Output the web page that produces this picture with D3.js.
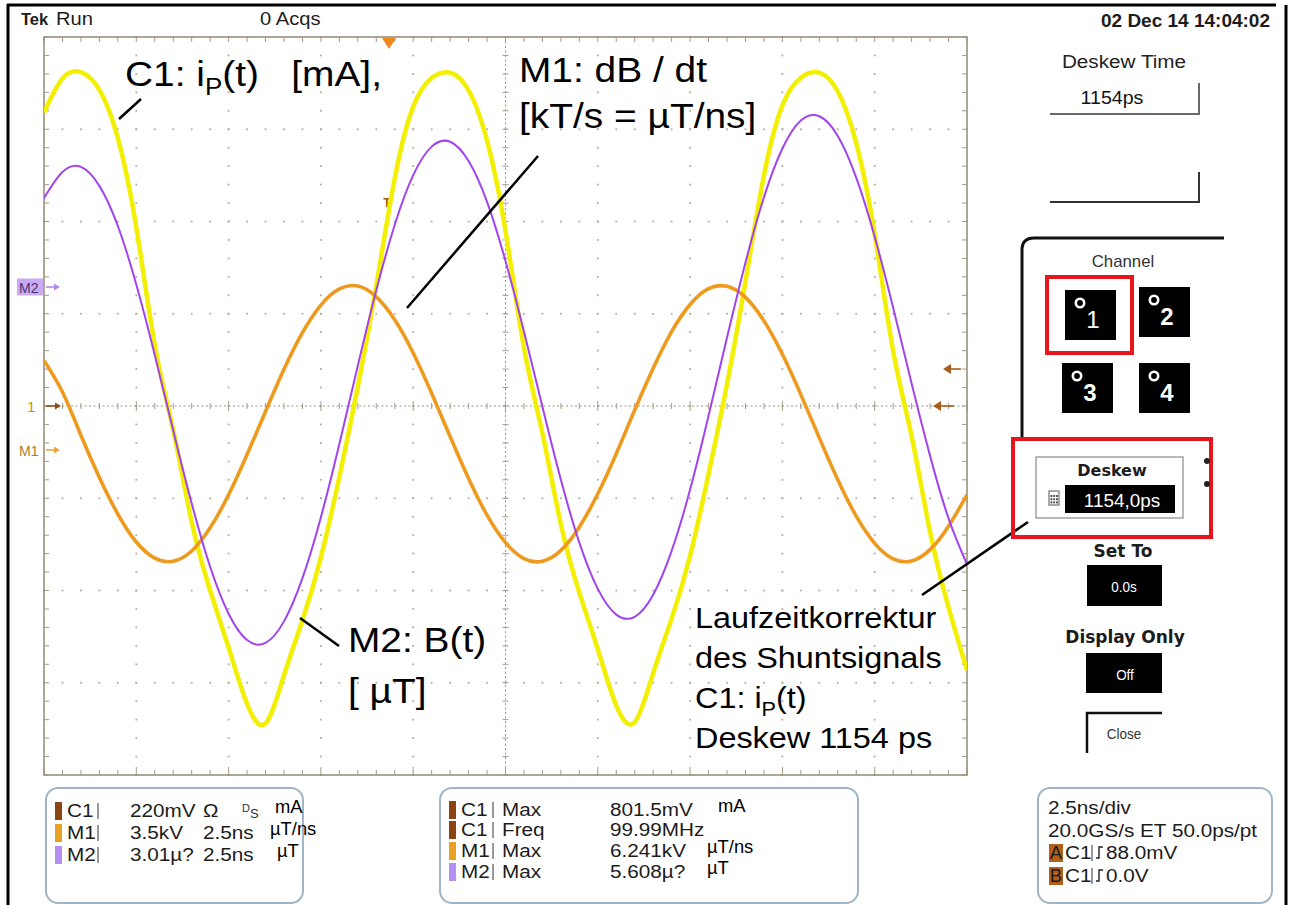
<!DOCTYPE html>
<html>
<head>
<meta charset="utf-8">
<script src="https://cdn.jsdelivr.net/npm/d3@7"></script>
<style>
  body { margin: 0; background: #fff; }
  svg { display: block; font-family: "Liberation Sans", Arial, sans-serif; }
</style>
</head>
<body>
<div id="chart-area"></div>
<script>
// ---------------- DATA ----------------
// time axis, ns (2.5 ns/div, 10 div)
const timeNs = [0, 0.5, 1, 1.5, 2, 2.5, 3, 3.5, 4, 4.5, 5, 5.5, 6, 6.5, 7, 7.5, 8, 8.5, 9, 9.5,
  10, 10.5, 11, 11.5, 12, 12.5, 13, 13.5, 14, 14.5, 15, 15.5, 16, 16.5, 17, 17.5, 18, 18.5, 19, 19.5,
  20, 20.5, 21, 21.5, 22, 22.5, 23, 23.5, 24, 24.5, 25];

// C1 shunt signal i_P(t), mV
const c1mV = [700, 781, 796, 754, 639, 426, 146, -57, -276, -440, -576, -710, -757, -642, -511, -361, -169,
  46, 287, 543, 714, 782, 795, 753, 633, 418, 139, -65, -282, -445, -580, -714, -754, -637, -507, -357, -162,
  52, 297, 550, 717, 783, 795, 750, 627, 410, 131, -72, -300, -480, -630];

// M1 dB/dt, kV (= uT/ns)
const m1kV = [3.40, 2.20, 0.56, -1.04, -2.43, -3.49, -4.10, -4.22, -3.83, -2.95, -1.70, -0.17, 1.46, 3.06,
  4.45, 5.50, 6.11, 6.22, 5.81, 4.94, 3.68, 2.15, 0.51, -1.08, -2.47, -3.51, -4.12, -4.22, -3.81, -2.92,
  -1.66, -0.14, 1.52, 3.10, 4.49, 5.52, 6.12, 6.21, 5.79, 4.90, 3.63, 2.10, 0.46, -1.13, -2.51, -3.54,
  -4.13, -4.21, -3.78, -2.89, -1.70];

// M2 B(t), u
const m2uT = [2.90, 3.75, 3.92, 3.30, 1.99, 0.08, -2.22, -4.68, -7.06, -9.13, -10.66, -11.52, -11.61,
  -10.91, -9.50, -7.51, -5.12, -2.57, -0.11, 2.03, 3.65, 4.58, 4.74, 4.11, 2.78, 0.85, -1.45, -3.91,
  -6.29, -8.34, -9.85, -10.69, -10.76, -10.04, -8.61, -6.61, -4.20, -1.65, 0.80, 2.93, 4.52, 5.43,
  5.57, 4.93, 3.57, 1.64, -0.68, -3.15, -5.51, -7.55, -9.05];

// channel setup: volts per div and ground marker (div from centre)
const channels = ["C1", "M1", "M2"];
const voltsPerDiv = [220, 3.5, 3.01];
const groundDiv = [0, -0.477, 1.29];

// readouts
const setupSrc = ["C1", "M1", "M2"];
const setupScale = ["220mV", "3.5kV", "3.01\u00b5?"];
const setupCol2 = ["\u03a9", "2.5ns", "2.5ns"];
const setupUnit = ["mA", "\u00b5T/ns", "\u00b5T"];

const measSrc = ["C1", "C1", "M1", "M2"];
const measType = ["Max", "Freq", "Max", "Max"];
const measValue = ["801.5mV", "99.99MHz", "6.241kV", "5.608\u00b5?"];
const measUnit = ["mA", "", "\u00b5T/ns", "\u00b5T"];

const timebase = ["2.5ns/div", "20.0GS/s ET 50.0ps/pt"];
const trigName = ["A", "B"];
const trigSrc = ["C1", "C1"];
const trigLevel = ["88.0mV", "0.0V"];

// ---------------- LAYOUT ----------------
const W = 1295, H = 905;
const plot = { left: 44, right: 967, top: 37, bottom: 775 };
const colC1 = "#f2ef00", colM1 = "#ee9a1e", colM2 = "#a244ee";
const swatch = { C1: "#8a4512", M1: "#e9a124", M2: "#b58ef2" };

const svg = d3.select("#chart-area").append("svg")
  .attr("width", W)
  .attr("height", H);

function label(sel, x, y, s, o = {}) {
  const t = sel.append("text")
    .attr("transform", `translate(${x},${y}) scale(${o.sx ?? 1.12},1)`)
    .attr("font-size", o.size || 18.5)
    .attr("fill", o.fill || "#1c1c1c")
    .attr("text-anchor", o.anchor || "start")
    .attr("font-weight", o.weight || "normal")
    .style("white-space", "pre");
  if (o.family) t.attr("font-family", o.family);
  t.text(s);
  return t;
}

// outer frame
svg.append("line").attr("x1", 7).attr("y1", 5).attr("x2", 1276).attr("y2", 5)
  .attr("stroke", "#000").attr("stroke-width", 3);
svg.append("line").attr("x1", 8).attr("y1", 4).attr("x2", 8).attr("y2", H)
  .attr("stroke", "#000").attr("stroke-width", 3);
svg.append("line").attr("x1", 1286).attr("y1", 5).attr("x2", 1286).attr("y2", H)
  .attr("stroke", "#000").attr("stroke-width", 3);

// top status line
label(svg, 21, 25, "Tek", { size: 16.5, weight: "bold", sx: 1.0 });
label(svg, 56, 25, "Run", { size: 18 });
label(svg, 260, 25, "0 Acqs", { size: 18 });
label(svg, 1270, 27, "02 Dec 14 14:04:02", { size: 19, weight: "bold", anchor: "end", sx: 1.0 });

// ---------------- SCALES ----------------
const x = d3.scaleLinear().domain([0, 25]).range([plot.left, plot.right]);
const yDiv = d3.scaleLinear().domain([-4, 4]).range([plot.bottom, plot.top]);
const yCh = channels.map((c, i) => d3.scaleLinear()
  .domain([(-4 - groundDiv[i]) * voltsPerDiv[i], (4 - groundDiv[i]) * voltsPerDiv[i]])
  .range([plot.bottom, plot.top]));

// ---------------- GRATICULE ----------------
const grid = svg.append("g").attr("class", "graticule");
const gridCol = "#a49b88";

const innerMajX = d3.range(2.5, 24.99, 2.5).filter(t => Math.abs(t - 12.5) > 0.01);
const innerMajY = [-3, -2, -1, 1, 2, 3];
const minorX = d3.range(0, 25.001, 0.5);
const minorY = d3.range(-4, 4.001, 0.2);

const dots = innerMajX.flatMap(t => minorY.map(d => [x(t), yDiv(d)]))
  .concat(innerMajY.flatMap(d => minorX.map(t => [x(t), yDiv(d)])));

grid.selectAll("rect.dot").data(dots).join("rect")
  .attr("class", "dot")
  .attr("x", d => d[0] - 0.9).attr("y", d => d[1] - 0.9)
  .attr("width", 1.8).attr("height", 1.8)
  .attr("fill", "#b3ad9c");

// centre cross
grid.append("line")
  .attr("x1", plot.left).attr("x2", plot.right).attr("y1", yDiv(0)).attr("y2", yDiv(0))
  .attr("stroke", "#9d947f").attr("stroke-dasharray", "2,2.5");
grid.append("line")
  .attr("x1", x(12.5)).attr("x2", x(12.5)).attr("y1", plot.top).attr("y2", plot.bottom)
  .attr("stroke", "#9d947f").attr("stroke-dasharray", "2,2.5");
grid.selectAll("line.cx").data(minorX).join("line")
  .attr("class", "cx")
  .attr("x1", d => x(d)).attr("x2", d => x(d))
  .attr("y1", d => yDiv(0) - (d % 2.5 === 0 ? 5 : 3)).attr("y2", d => yDiv(0) + (d % 2.5 === 0 ? 5 : 3))
  .attr("stroke", gridCol);
grid.selectAll("line.cy").data(minorY).join("line")
  .attr("class", "cy")
  .attr("y1", d => yDiv(d)).attr("y2", d => yDiv(d))
  .attr("x1", x(12.5) - 3).attr("x2", x(12.5) + 3)
  .attr("stroke", gridCol);

// edge ticks
grid.selectAll("line.tt").data(minorX).join("line")
  .attr("class", "tt")
  .attr("x1", d => x(d)).attr("x2", d => x(d))
  .attr("y1", plot.top).attr("y2", plot.top + 5)
  .attr("stroke", gridCol);
grid.selectAll("line.tb").data(minorX).join("line")
  .attr("class", "tb")
  .attr("x1", d => x(d)).attr("x2", d => x(d))
  .attr("y1", plot.bottom).attr("y2", d => plot.bottom - (d % 2.5 === 0 ? 8 : 5))
  .attr("stroke", gridCol);
grid.selectAll("line.tl").data(minorY).join("line")
  .attr("class", "tl")
  .attr("y1", d => yDiv(d)).attr("y2", d => yDiv(d))
  .attr("x1", plot.left).attr("x2", plot.left + 5)
  .attr("stroke", gridCol);
grid.selectAll("line.tr").data(minorY).join("line")
  .attr("class", "tr")
  .attr("y1", d => yDiv(d)).attr("y2", d => yDiv(d))
  .attr("x1", plot.right).attr("x2", plot.right - 5)
  .attr("stroke", gridCol);

grid.append("rect")
  .attr("x", plot.left).attr("y", plot.top)
  .attr("width", plot.right - plot.left).attr("height", plot.bottom - plot.top)
  .attr("fill", "none").attr("stroke", "#9a917e").attr("stroke-width", 1.6);

// ---------------- MARKERS ----------------
function arrow(x1, x2, y, color, head = 6, hw = 3.5) {
  const dir = x2 > x1 ? 1 : -1;
  svg.append("line").attr("x1", x1).attr("x2", x2 - dir * head).attr("y1", y).attr("y2", y)
    .attr("stroke", color).attr("stroke-width", 1.6);
  svg.append("path")
    .attr("d", `M${x2},${y} L${x2 - dir * head},${y - hw} L${x2 - dir * head},${y + hw} Z`)
    .attr("fill", color);
}

// M2 ground marker
svg.append("rect").attr("x", 17).attr("y", yDiv(groundDiv[2]) - 8.5).attr("width", 26).attr("height", 17)
  .attr("fill", "#c8abf4");
label(svg, 19, yDiv(groundDiv[2]) + 6, "M2", { size: 14, fill: "#4b3470", sx: 1.0 });
arrow(46, 60, yDiv(groundDiv[2]), "#b08be8");
// C1 ground marker
label(svg, 27, yDiv(groundDiv[0]) + 6, "1", { size: 15, fill: "#a7a300", sx: 1.0 });
arrow(46, 61, yDiv(groundDiv[0]), "#8c4d14");
// M1 ground marker
label(svg, 19, yDiv(groundDiv[1]) + 6, "M1", { size: 14, fill: "#b07a1e", sx: 1.0 });
arrow(46, 60, yDiv(groundDiv[1]), "#e5a444");

// trigger level arrows on the right
arrow(961, 943, 369, "#a85a1a", 8, 5);
arrow(954, 933, yDiv(0), "#a85a1a", 8, 5);

// trigger position
svg.append("path").attr("d", "M382,38 L396,38 L389,49 Z").attr("fill", "#f0881c");
label(svg, 387, 207, "T", { size: 12, weight: "bold", fill: "#9a5a14", anchor: "middle", sx: 1.0 });

// ---------------- TRACES ----------------
svg.append("clipPath").attr("id", "clip")
  .append("rect")
  .attr("x", plot.left).attr("y", plot.top)
  .attr("width", plot.right - plot.left).attr("height", plot.bottom - plot.top);

const traces = svg.append("g").attr("clip-path", "url(#clip)");

function trace(values, ch, color, width) {
  const line = d3.line()
    .x((d, i) => x(timeNs[i]))
    .y(d => yCh[ch](d))
    .curve(d3.curveNatural);
  traces.append("path")
    .datum(values)
    .attr("fill", "none")
    .attr("stroke", color)
    .attr("stroke-width", width)
    .attr("stroke-linejoin", "round")
    .attr("d", line);
}

trace(c1mV, 0, colC1, 4.5);
trace(m1kV, 1, colM1, 3.6);
trace(m2uT, 2, colM2, 2);

// ---------------- ANNOTATIONS ----------------
function leader(x1, y1, x2, y2) {
  svg.append("line").attr("x1", x1).attr("y1", y1).attr("x2", x2).attr("y2", y2)
    .attr("stroke", "#000").attr("stroke-width", 2.5);
}

const a1 = label(svg, 125, 86, "C1: i", { size: 36, sx: 1.08, fill: "#000" });
a1.append("tspan").attr("font-size", 24).attr("dy", 9).text("P");
a1.append("tspan").attr("dy", -9).text("(t)   [mA],");
leader(119, 119, 141, 99);

label(svg, 519, 82, "M1: dB / dt", { size: 36, sx: 1.08, fill: "#000" });
label(svg, 519, 128, "[kT/s = \u00b5T/ns]", { size: 36, sx: 1.08, fill: "#000" });
leader(407, 308, 538, 156);

label(svg, 348, 652, "M2: B(t)", { size: 36, sx: 1.08, fill: "#000" });
label(svg, 348, 703, "[ \u00b5T]", { size: 36, sx: 1.08, fill: "#000" });
leader(300, 618, 339, 646);

label(svg, 695, 628, "Laufzeitkorrektur", { size: 30, sx: 1.08, fill: "#000" });
label(svg, 695, 668, "des Shuntsignals", { size: 30, sx: 1.08, fill: "#000" });
const a4 = label(svg, 695, 708, "C1: i", { size: 30, sx: 1.08, fill: "#000" });
a4.append("tspan").attr("font-size", 20).attr("dy", 8).text("P");
a4.append("tspan").attr("dy", -8).text("(t)");
label(svg, 695, 748, "Deskew 1154 ps", { size: 30, sx: 1.08, fill: "#000" });
leader(922, 595, 1028, 522);

// ---------------- SIDE MENU ----------------
label(svg, 1124, 68, "Deskew Time", { size: 18.5, anchor: "middle", fill: "#222" });
label(svg, 1112, 104, "1154ps", { size: 17.5, anchor: "middle", fill: "#111" });
svg.append("path").attr("d", "M1050,114 H1199 V83").attr("fill", "none")
  .attr("stroke", "#6a6a6a").attr("stroke-width", 2);
svg.append("path").attr("d", "M1050,202 H1199 V172").attr("fill", "none")
  .attr("stroke", "#333").attr("stroke-width", 2);

svg.append("path").attr("d", "M1022,437 V250 Q1022,238 1034,238 H1224").attr("fill", "none")
  .attr("stroke", "#111").attr("stroke-width", 3);
label(svg, 1123, 267, "Channel", { size: 16, anchor: "middle", fill: "#333", sx: 1.05 });

const chButtons = [[1065, 290, "1", "normal"], [1139, 287, "2", "bold"], [1062, 363, "3", "bold"], [1139, 363, "4", "bold"]];
chButtons.forEach(([bx, by, n, w]) => {
  svg.append("rect").attr("x", bx).attr("y", by).attr("width", 51).attr("height", 50).attr("fill", "#000");
  svg.append("circle").attr("cx", bx + 15).attr("cy", by + 13).attr("r", 4.2)
    .attr("fill", "none").attr("stroke", "#fff").attr("stroke-width", 2.6);
  label(svg, bx + 28, by + 38, n, { size: 24, weight: w, fill: "#fff", anchor: "middle", sx: 1.0 });
});
svg.append("rect").attr("x", 1047).attr("y", 277).attr("width", 85).attr("height", 76)
  .attr("fill", "none").attr("stroke", "#e8161c").attr("stroke-width", 4);

svg.append("rect").attr("x", 1013).attr("y", 439).attr("width", 198).attr("height", 98)
  .attr("fill", "none").attr("stroke", "#e8161c").attr("stroke-width", 4);
svg.append("rect").attr("x", 1036).attr("y", 457).attr("width", 147).attr("height", 61)
  .attr("fill", "none").attr("stroke", "#8a8a8a").attr("stroke-width", 1.2);
label(svg, 1112, 476, "Deskew", { size: 16, weight: "bold", anchor: "middle", family: "DejaVu Sans", sx: 1.0 });
svg.append("rect").attr("x", 1065).attr("y", 485).attr("width", 110).attr("height", 28).attr("fill", "#000");
label(svg, 1122, 507, "1154,0ps", { size: 18, fill: "#fff", anchor: "middle", sx: 1.05 });
// calculator icon
svg.append("rect").attr("x", 1049).attr("y", 491).attr("width", 10).attr("height", 14)
  .attr("fill", "#fff").attr("stroke", "#555").attr("stroke-width", 1);
svg.append("g").selectAll("rect").data(d3.range(9)).join("rect")
  .attr("x", i => 1050.5 + (i % 3) * 2.8).attr("y", i => 495 + Math.floor(i / 3) * 3.2)
  .attr("width", 1.8).attr("height", 2).attr("fill", "#444");
svg.append("circle").attr("cx", 1207).attr("cy", 461).attr("r", 3).attr("fill", "#222");
svg.append("circle").attr("cx", 1207).attr("cy", 484).attr("r", 3).attr("fill", "#222");

label(svg, 1123, 557, "Set To", { size: 17, weight: "bold", anchor: "middle", family: "DejaVu Sans", sx: 1.0 });
svg.append("rect").attr("x", 1087).attr("y", 565).attr("width", 75).attr("height", 41).attr("fill", "#000");
label(svg, 1124, 592, "0.0s", { size: 15, fill: "#fff", anchor: "middle", sx: 0.9 });

label(svg, 1125, 643, "Display Only", { size: 17, weight: "bold", anchor: "middle", family: "DejaVu Sans", sx: 1.0 });
svg.append("rect").attr("x", 1086).attr("y", 653).attr("width", 76).attr("height", 40).attr("fill", "#000");
label(svg, 1125, 680, "Off", { size: 15, fill: "#fff", anchor: "middle", sx: 0.9 });

svg.append("path").attr("d", "M1162,713 H1087 V753").attr("fill", "none")
  .attr("stroke", "#111").attr("stroke-width", 2.5);
label(svg, 1124, 739, "Close", { size: 15, fill: "#333", anchor: "middle", sx: 0.9 });

// ---------------- READOUT BOXES ----------------
const boxes = [[46, 257], [440, 418], [1038, 234]];
boxes.forEach(([bx, bw]) => {
  svg.append("rect").attr("x", bx).attr("y", 788).attr("width", bw).attr("height", 115)
    .attr("rx", 12).attr("fill", "#fff").attr("stroke", "#9fb5c7").attr("stroke-width", 2);
});

function sep(xp, yb) {
  svg.append("line").attr("x1", xp).attr("x2", xp).attr("y1", yb - 14).attr("y2", yb + 2)
    .attr("stroke", "#333").attr("stroke-width", 1);
}

// vertical setup box
const by1 = [817, 839, 861];
const unitX1 = [275, 270, 277];
setupSrc.forEach((s, i) => {
  svg.append("rect").attr("x", 55).attr("y", by1[i] - 15).attr("width", 7).attr("height", 18).attr("fill", swatch[s]);
  label(svg, 67, by1[i], s);
  sep(98, by1[i]);
  label(svg, 130, by1[i], setupScale[i]);
  label(svg, 203, by1[i], setupCol2[i]);
  label(svg, unitX1[i], by1[i] - 4, setupUnit[i], { size: 17.5, fill: "#000", sx: 1.05 });
});
label(svg, 242, by1[0] - 5, "D", { size: 11, fill: "#333", sx: 1.0 });
label(svg, 250, by1[0] + 1, "S", { size: 13, fill: "#333", sx: 1.0 });

// measurement box
const by2 = [816, 836, 857, 878];
const unitX2 = [718, 0, 707, 707];
measSrc.forEach((s, i) => {
  svg.append("rect").attr("x", 449).attr("y", by2[i] - 15).attr("width", 7).attr("height", 18).attr("fill", swatch[s]);
  label(svg, 461, by2[i], s);
  sep(493, by2[i]);
  label(svg, 502, by2[i], measType[i]);
  label(svg, 610, by2[i], measValue[i]);
  if (measUnit[i]) label(svg, unitX2[i], by2[i] - 4, measUnit[i], { size: 17.5, fill: "#000", sx: 1.05 });
});

// timebase / trigger box
label(svg, 1048, 814, timebase[0]);
label(svg, 1048, 837, timebase[1]);
const by3 = [859, 882];
trigName.forEach((n, i) => {
  svg.append("rect").attr("x", 1049).attr("y", by3[i] - 15).attr("width", 14).attr("height", 18).attr("fill", "#b25f1c");
  label(svg, 1056, by3[i], n, { anchor: "middle", fill: "#1a1a1a", sx: 1.0 });
  label(svg, 1065, by3[i], trigSrc[i]);
  sep(1092, by3[i]);
  svg.append("path").attr("d", `M1096,${by3[i] - 1} H1099 V${by3[i] - 12} H1103`)
    .attr("fill", "none").attr("stroke", "#222").attr("stroke-width", 1.4);
  label(svg, 1106, by3[i], trigLevel[i]);
});
</script>
</body>
</html>
